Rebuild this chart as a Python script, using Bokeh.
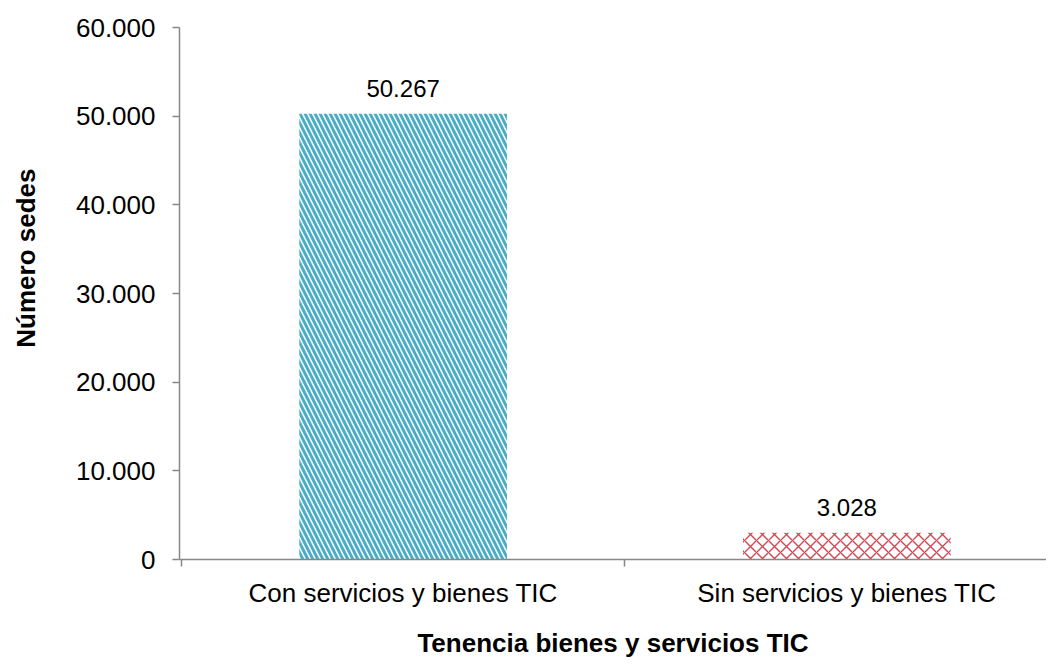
from bokeh.plotting import figure
from bokeh.models import (ColumnDataSource, FixedTicker, Range1d, LabelSet, Title)
from bokeh.core.properties import value
from bokeh.embed import file_html
from bokeh.resources import INLINE

categories = ["Con servicios y bienes TIC", "Sin servicios y bienes TIC"]
values = [50267, 3028]
value_labels = ["50.267", "3.028"]
bar_colors = ["#4BACC6", "#E0404C"]
hatches = ["left_diagonal_line", "diagonal_cross"]
y_ticks = [0, 10000, 20000, 30000, 40000, 50000, 60000]
y_tick_labels = ["0", "10.000", "20.000", "30.000", "40.000", "50.000", "60.000"]

FONT = "Liberation Sans"
AXIS_COLOR = "#878787"

xpos = [i + 0.5 for i in range(len(categories))]

p = figure(width=1046, height=660, output_backend="svg", toolbar_location=None,
           x_range=Range1d(-0.004, 1.95), y_range=Range1d(0, 60000),
           min_border_top=27, min_border_right=0, min_border_left=0,
           min_border_bottom=0)
p.outline_line_color = None
p.grid.visible = False
p.background_fill_color = "white"
p.border_fill_color = "white"

for i in range(len(categories)):
    src = ColumnDataSource(dict(x=[xpos[i]], top=[values[i]]))
    p.vbar(x="x", top="top", width=0.468, bottom=0, source=src,
           fill_color="white", line_color=None,
           hatch_pattern=hatches[i], hatch_color=bar_colors[i],
           hatch_weight=3 if i == 0 else 1.4,
           hatch_scale=10 if i == 0 else 12)

lsrc = ColumnDataSource(dict(x=xpos, y=values, t=value_labels))
labels = LabelSet(x="x", y="y", text="t", source=lsrc, text_align="center",
                  text_baseline="alphabetic", y_offset=17,
                  text_font=value(FONT), text_font_size=value("24px"),
                  text_color="black")
p.add_layout(labels)

# x axis
xa = p.xaxis[0]
xa.ticker = FixedTicker(ticks=xpos, minor_ticks=[0, 1, 2])
xa.major_label_overrides = {xpos[i]: categories[i] for i in range(len(categories))}
xa.major_tick_line_color = None
xa.major_tick_out = 0
xa.major_tick_in = 0
xa.minor_tick_line_color = AXIS_COLOR
xa.minor_tick_out = 7
xa.minor_tick_in = 0
xa.minor_tick_line_width = 1.5
xa.axis_line_color = AXIS_COLOR
xa.axis_line_width = 1.5
xa.major_label_text_font = FONT
xa.major_label_text_font_size = "26px"
xa.major_label_text_color = "black"
xa.major_label_standoff = 11
xa.axis_label = "Tenencia bienes y servicios TIC"
xa.axis_label_text_font = FONT
xa.axis_label_text_font_size = "26px"
xa.axis_label_text_font_style = "bold"
xa.axis_label_text_color = "black"
xa.axis_label_standoff = 17

# y axis
ya = p.yaxis[0]
ya.ticker = FixedTicker(ticks=y_ticks, minor_ticks=[])
ya.major_label_overrides = {y_ticks[i]: y_tick_labels[i] for i in range(len(y_ticks))}
ya.major_tick_line_color = AXIS_COLOR
ya.major_tick_line_width = 1.5
ya.major_tick_out = 7
ya.major_tick_in = 0
ya.axis_line_color = AXIS_COLOR
ya.axis_line_width = 1.5
ya.major_label_text_font = FONT
ya.major_label_text_font_size = "26px"
ya.major_label_text_color = "black"
ya.major_label_standoff = 17

# spacer between tick labels and the y title
spacer = Title(text=" ", text_font_size="1px", standoff=21)
p.add_layout(spacer, "left")

ytitle = Title(text="Número sedes", align="right", offset=141,
               text_font=FONT, text_font_size="26px", text_font_style="bold",
               text_color="black", standoff=16)
p.add_layout(ytitle, "left")

open("out.html", "w").write(file_html(p, INLINE))
